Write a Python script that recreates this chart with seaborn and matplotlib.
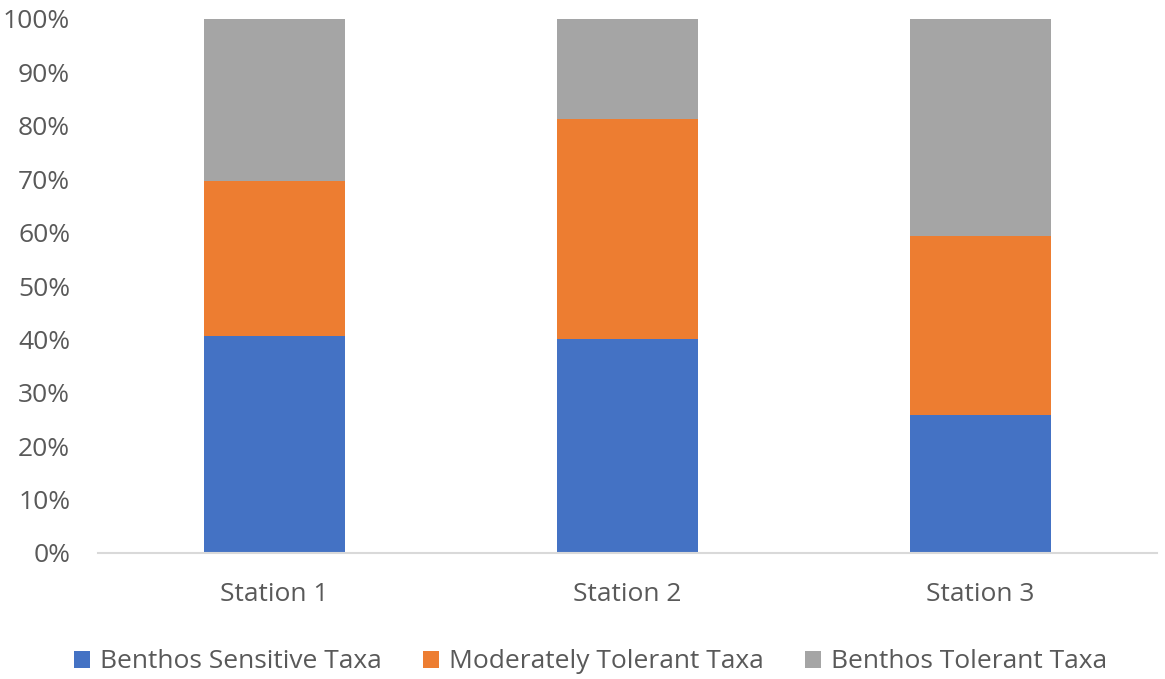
import numpy as np
import pandas as pd
import matplotlib
matplotlib.use('Agg')
import matplotlib.pyplot as plt
import seaborn as sns
from matplotlib.patches import Patch
from matplotlib.ticker import PercentFormatter

# values (percent of total)
stations = ['Station 1', 'Station 2', 'Station 3']
sensitive = [40.6, 40.1, 25.8]
moderate = [29.1, 41.2, 33.6]
tolerant = [30.3, 18.7, 40.6]

series_names = ['Benthos Sensitive Taxa', 'Moderately Tolerant Taxa', 'Benthos Tolerant Taxa']
colors = ['#4472C4', '#ED7D31', '#A5A5A5']

sns.set_theme(style='white')
plt.rcParams['font.family'] = ['Open Sans', 'DejaVu Sans']

df = pd.DataFrame({'station': stations, 'sensitive': sensitive,
                   'moderate': moderate, 'tolerant': tolerant})
df['c1'] = df['sensitive']
df['c2'] = df['c1'] + df['moderate']
df['c3'] = df['c2'] + df['tolerant']

fig = plt.figure(figsize=(11.65, 6.79), dpi=100)
ax = fig.add_axes([98 / 1165, 126 / 679, 1059 / 1165, 534 / 679])

# draw stacked bars from the top down so each cumulative bar covers the one below
for col, color in zip(['c3', 'c2', 'c1'], colors[::-1]):
    sns.barplot(data=df, x='station', y=col, color=color, width=0.4,
                saturation=1, ax=ax, edgecolor='none', linewidth=0)

ax.set_ylim(0, 100)
ax.set_xlim(-0.5, 2.5)
ax.set_yticks(np.arange(0, 101, 10))
ax.yaxis.set_major_formatter(PercentFormatter(decimals=0))
ax.set_xlabel('')
ax.set_ylabel('')
ax.tick_params(axis='both', length=0, labelsize=19, labelcolor='#595959')
ax.tick_params(axis='x', pad=21)
ax.tick_params(axis='y', pad=20)
for side in ['top', 'right', 'left']:
    ax.spines[side].set_visible(False)
ax.spines['bottom'].set_color('#D9D9D9')
ax.spines['bottom'].set_linewidth(1.5)

handles = [Patch(facecolor=c, edgecolor='none') for c in colors]
fig.legend(handles, series_names, loc='center', bbox_to_anchor=(0.507, 17 / 679),
           ncol=3, frameon=False, fontsize=19, labelcolor='#595959',
           handlelength=0.6, handleheight=0.6, handletextpad=0.4, columnspacing=1.55)

fig.savefig('out.png', dpi=100)
